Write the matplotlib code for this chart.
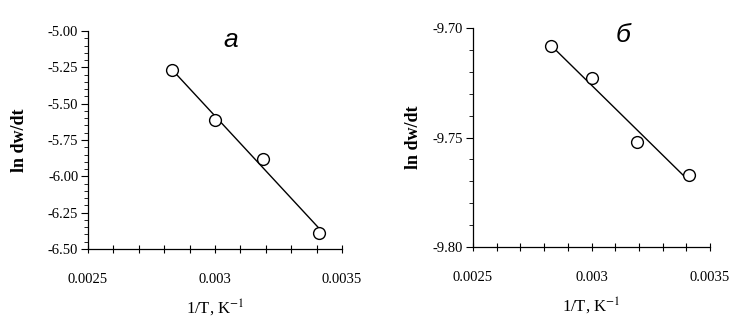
import numpy as np
import matplotlib.pyplot as plt
from matplotlib.ticker import MultipleLocator, FixedLocator

plt.rcParams['mathtext.fontset'] = 'stix'

# data
inv_t = [0.00283, 0.00300, 0.00319, 0.00341]
ln_rate_a = [-5.27, -5.61, -5.88, -6.39]
ln_rate_b = [-9.708, -9.723, -9.752, -9.767]

x_ticks = [0.0025, 0.003, 0.0035]
x_tick_labels = ['0.0025', '0.003', '0.0035']
y_ticks_a = [-6.50, -6.25, -6.00, -5.75, -5.50, -5.25, -5.00]
y_ticks_b = [-9.80, -9.75, -9.70]

serif = ['Liberation Serif', 'DejaVu Serif']
sans = ['Liberation Sans', 'DejaVu Sans']

fig = plt.figure(figsize=(7.56, 3.23), dpi=100)
ax_a = fig.add_axes([0.1164, 0.229, 0.336, 0.675])
ax_b = fig.add_axes([0.6257, 0.235, 0.3135, 0.678])


def draw_panel(ax, y, yticks, ylim, yminor, letter, letter_pos, ylabelpad):
    # linear fit through points
    k, b = np.polyfit(inv_t, y, 1)
    xs = np.array([inv_t[0], inv_t[-1]])
    ax.plot(xs, k * xs + b, color='black', lw=1.0, zorder=2)
    ax.plot(inv_t, y, 'o', ms=8.5, mfc='white', mec='black', mew=1.0, zorder=3)

    ax.set_xlim(0.0025, 0.0035)
    ax.set_ylim(*ylim)
    ax.spines['top'].set_visible(False)
    ax.spines['right'].set_visible(False)
    for s in ('left', 'bottom'):
        ax.spines[s].set_linewidth(0.9)

    ax.xaxis.set_major_locator(FixedLocator(x_ticks))
    ax.set_xticklabels(x_tick_labels, family=serif, fontsize=10.5)
    ax.xaxis.set_minor_locator(MultipleLocator(0.0001))
    ax.yaxis.set_major_locator(FixedLocator(yticks))
    ax.set_yticklabels(['%.2f' % v for v in yticks], family=serif, fontsize=10.5)
    ax.yaxis.set_minor_locator(MultipleLocator(yminor))

    ax.tick_params(axis='x', which='both', direction='inout', length=6, width=0.8, pad=14)
    ax.tick_params(axis='y', which='major', direction='out', length=5, width=0.8, pad=2)
    ax.tick_params(axis='y', which='minor', direction='out', length=3, width=0.6)

    ax.set_xlabel('1/T, K$^{-1}$', family=serif, fontsize=12, labelpad=8)
    ax.set_ylabel('ln dw/dt', family=serif, fontsize=13, fontweight='bold',
                  labelpad=ylabelpad)
    ax.text(letter_pos[0], letter_pos[1], letter, transform=ax.transAxes,
            family=sans, style='italic', fontsize=19, ha='center', va='center')


draw_panel(ax_a, ln_rate_a, y_ticks_a, (-6.50, -5.00), 0.05, 'а', (0.56, 0.96), 14)
draw_panel(ax_b, ln_rate_b, y_ticks_b, (-9.80, -9.70), 0.01, 'б', (0.635, 0.97), 8)

fig.savefig('out.png', dpi=100)
